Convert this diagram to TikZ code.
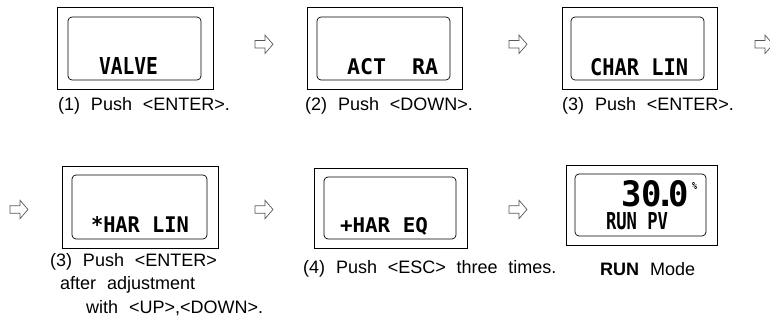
\documentclass[tikz,border=0pt]{standalone}
\usepackage{fontspec}
\usepackage{graphicx}
\setmainfont{Liberation Sans}
\newfontfamily\lcdfont{DejaVu Sans Mono}
\newcommand\capfont{\fontsize{18}{21}\selectfont\spaceskip=0.6em\relax}
\tikzset{
  x=1pt, y=-1pt,
  outerbox/.style={draw=black, line width=0.9pt, inner sep=0pt, fill=white},
  innerbox/.style={draw=black, line width=0.7pt, rounded corners=4pt, inner sep=0pt},
  lcd/.style={inner sep=0pt, anchor=base, font=\lcdfont\bfseries},
  captext/.style={inner sep=0pt, anchor=base west, font=\capfont},
  harrow/.pic={\draw[gray!70!black, line width=0.7pt, line join=miter]
     (0,-3.7) -- (10,-3.7) -- (10,-9.2) -- (18,0) -- (10,9.2) -- (10,3.7) -- (0,3.7) -- cycle;}
}
\begin{document}
\begin{tikzpicture}
\useasboundingbox (0,0) rectangle (770,336);
% row 1
\node[outerbox, minimum width=156pt, minimum height=82pt] (b1) at (135,48) {};
\node[innerbox, minimum width=133pt, minimum height=63pt] (s1) at (134.5,48.5) {};
\node[lcd] (t1) at (128.5,75) {\resizebox{59pt}{17pt}{VALVE}};
\node[captext] (c1) at (58,111) {(1) Push <ENTER>.};

\node[outerbox, minimum width=155pt, minimum height=82pt] (b2) at (384.5,48) {};
\node[innerbox, minimum width=133pt, minimum height=63pt] (s2) at (383.5,48.5) {};
\node[lcd] (t2) at (392.5,75) {\resizebox{91pt}{16pt}{ACT\ \ RA}};
\node[captext] (c2) at (305,111) {(2) Push <DOWN>.};

\node[outerbox, minimum width=155pt, minimum height=82pt] (b3) at (639.5,48) {};
\node[innerbox, minimum width=133pt, minimum height=63pt] (s3) at (637.5,48.5) {};
\node[lcd] (t3) at (639,76) {\resizebox{98pt}{17pt}{CHAR LIN}};
\node[captext] (c3) at (562,111) {(3) Push <ENTER>.};

\pic at (255,44.3) {harrow};
\pic at (509,44.3) {harrow};
\pic at (755,44.3) {harrow};

% row 2
\pic at (10,209.5) {harrow};
\pic at (255,209.5) {harrow};
\pic at (509,209.5) {harrow};

\node[outerbox, minimum width=156pt, minimum height=82pt] (b4) at (140,207) {};
\node[innerbox, minimum width=135pt, minimum height=64pt] (s4) at (139.5,207) {};
\node[lcd] (t4) at (140,233) {\resizebox{98pt}{16pt}{*HAR LIN}};
\node[captext] (c4a) at (50,267) {(3) Push <ENTER>};
\node[captext] (c4b) at (60,290) {after adjustment};
\node[captext] (c4c) at (86,313) {with <UP>,<DOWN>.};

\node[outerbox, minimum width=153pt, minimum height=80pt] (b5) at (390.5,208) {};
\node[innerbox, minimum width=132pt, minimum height=62pt] (s5) at (390,208) {};
\node[lcd] (t5) at (384,233) {\resizebox{88pt}{15pt}{+HAR EQ}};
\node[captext] (c5) at (303,274) {(4) Push <ESC> three times.};

\node[outerbox, minimum width=151pt, minimum height=80pt] (b6) at (641.5,205) {};
\node[innerbox, minimum width=131pt, minimum height=62pt] (s6) at (640.5,205) {};
\node[lcd] (t6a) at (655,207) {\resizebox{68pt}{26pt}{30\kern-0.2em.\kern-0.2em0}};
\node[lcd] (t6b) at (694.5,190) {\resizebox{5pt}{7pt}{\%}};
\node[lcd] (t6c) at (637,230) {\resizebox{62pt}{17pt}{RUN PV}};
\node[captext] (c6) at (600,276) {\textbf{RUN} Mode};
\end{tikzpicture}
\end{document}
